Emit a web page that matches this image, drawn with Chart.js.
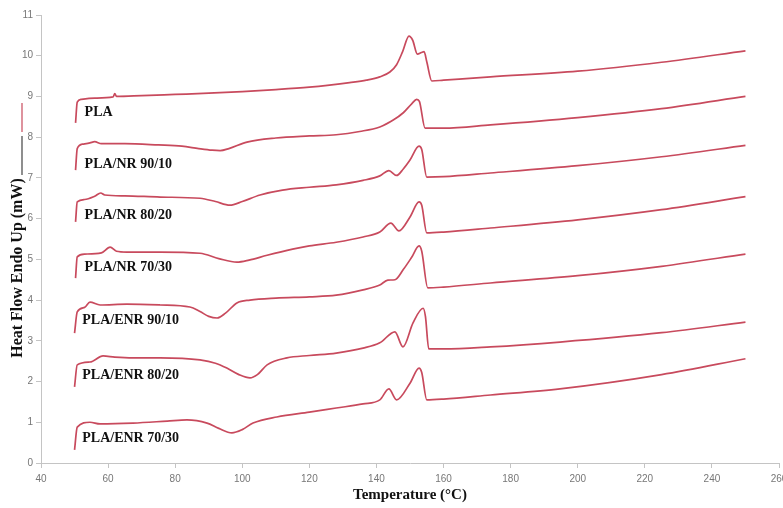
<!DOCTYPE html>
<html lang="en">
<head>
    <meta charset="utf-8">
    <title>DSC curves</title>
    <script src="https://cdn.jsdelivr.net/npm/chart.js"></script>
    <style>
        html, body {
            margin: 0;
            padding: 0;
            background: #fff;
            overflow: hidden;
        }
        #wrap {
            width: 800px;
            height: 508px;
        }
    </style>
</head>
<body>
    <div id="wrap">
        <canvas id="dscChart" width="800" height="508"></canvas>
    </div>

    <script>
        // [temperature °C, heat flow mW]
        const PLA = [[50.3,8.35],[50.8,8.86],[52,8.93],[56,8.96],[61.5,8.99],[62,9.07],[62.5,9.0],[70,9.02],[80,9.05],[90,9.08],[100,9.12],[110,9.17],[120,9.23],[126,9.28],[132,9.34],[137,9.4],[141,9.48],[144,9.6],[146,9.78],[147.8,10.1],[149.7,10.48],[150.8,10.38],[152.2,10.04],[153.4,10.08],[154.2,10.1],[155,9.85],[156.5,9.38],[160,9.4],[174,9.48],[200,9.62],[225,9.84],[250,10.12]];
        const NR_90_10 = [[50.3,7.19],[50.8,7.72],[52.5,7.83],[54.6,7.86],[56,7.89],[58,7.84],[65,7.84],[75,7.81],[82,7.78],[87,7.72],[91,7.68],[93.4,7.67],[96,7.72],[101.4,7.88],[110,7.98],[120,8.03],[128,8.06],[135,8.14],[141,8.25],[145,8.42],[148,8.6],[150.5,8.82],[152,8.93],[152.8,8.88],[154.5,8.22],[160,8.22],[174,8.3],[200,8.48],[225,8.7],[250,9.0]];
        const NR_80_20 = [[50.3,5.92],[50.8,6.41],[53,6.47],[56,6.55],[57.8,6.63],[59,6.58],[65,6.56],[75.5,6.53],[87.4,6.5],[92,6.42],[96.3,6.33],[100,6.42],[105.3,6.58],[112,6.7],[120,6.77],[128,6.83],[136,6.94],[141,7.05],[143.7,7.18],[146,7.06],[148,7.22],[150,7.44],[152.7,7.78],[153.5,7.7],[155,7.02],[160,7.03],[174,7.12],[200,7.3],[225,7.52],[250,7.8]];
        const NR_70_30 = [[50.3,4.54],[50.8,5.06],[53,5.13],[58,5.16],[60.6,5.3],[62.5,5.2],[65.6,5.18],[75.5,5.18],[87.4,5.15],[93,5.02],[98.4,4.93],[102,4.98],[107.4,5.1],[115,5.25],[120,5.33],[128,5.42],[136,5.55],[141,5.67],[144.3,5.89],[146.7,5.7],[150,6.04],[152.7,6.41],[153.5,6.33],[155,5.65],[160,5.67],[174,5.77],[200,5.97],[225,6.22],[250,6.54]];
        const ENR_90_10 = [[50.0,3.19],[50.8,3.71],[53,3.82],[54.6,3.95],[57.6,3.88],[65.6,3.9],[75.5,3.88],[84.4,3.83],[87.4,3.72],[90,3.6],[92.5,3.56],[95,3.68],[98.4,3.93],[102.3,4.0],[110,4.05],[120,4.08],[128,4.12],[136,4.25],[141,4.37],[143.4,4.49],[145.5,4.5],[148,4.75],[150.5,5.05],[152.7,5.33],[153.5,5.2],[155.3,4.3],[160,4.32],[174,4.42],[200,4.6],[225,4.83],[250,5.13]];
        const ENR_80_20 = [[50.0,1.87],[50.8,2.41],[54.6,2.48],[58.5,2.63],[62,2.6],[67.4,2.58],[75.5,2.58],[87.4,2.53],[92,2.45],[95.4,2.33],[99,2.17],[102.3,2.09],[104.5,2.17],[107.4,2.41],[113.3,2.58],[120,2.64],[128,2.7],[136,2.82],[141,2.95],[145.5,3.22],[147.9,2.85],[150.9,3.44],[153.9,3.8],[154.6,3.6],[155.6,2.8],[160,2.8],[174,2.85],[194.7,2.97],[225,3.2],[250,3.46]];
        const ENR_70_30 = [[50.0,0.32],[50.8,0.88],[54.6,1.0],[57.6,0.96],[67.4,0.98],[77.6,1.03],[83.5,1.06],[89.5,0.98],[93,0.85],[96.9,0.74],[100,0.82],[103.2,0.98],[110.3,1.13],[120,1.25],[128,1.35],[136,1.45],[141,1.55],[143.7,1.82],[146,1.55],[150,1.96],[152.7,2.33],[153.5,2.22],[155,1.55],[160,1.57],[174,1.67],[194.7,1.82],[225,2.17],[250,2.56]];

        const seriesNames = ['PLA', 'PLA/NR 90/10', 'PLA/NR 80/20', 'PLA/NR 70/30', 'PLA/ENR 90/10', 'PLA/ENR 80/20', 'PLA/ENR 70/30'];
        const seriesData = [PLA, NR_90_10, NR_80_20, NR_70_30, ENR_90_10, ENR_80_20, ENR_70_30];
        // where each curve's name sits, in data units (temperature, mW)
        const labelT = [53.0, 53.0, 53.0, 53.0, 52.3, 52.3, 52.3];
        const labelV = [8.61, 7.34, 6.09, 4.81, 3.51, 2.16, 0.61];

        const xTicks = [40, 60, 80, 100, 120, 140, 160, 180, 200, 220, 240, 260];
        const yTicks = [0, 1, 2, 3, 4, 5, 6, 7, 8, 9, 10, 11];

        const lineColor = '#c84a5d';
        const axisColor = '#c4c4c4';
        const serif = '"Liberation Serif", "DejaVu Serif", serif';

        const textPlugin = {
            id: 'dscText',
            afterDraw(chart) {
                const ctx = chart.ctx;
                const xs = chart.scales.x;
                const ys = chart.scales.y;
                const area = chart.chartArea;
                ctx.save();

                // curve names
                ctx.fillStyle = '#111';
                ctx.font = 'bold 14px ' + serif;
                ctx.textAlign = 'left';
                ctx.textBaseline = 'middle';
                seriesNames.forEach((name, i) => {
                    ctx.fillText(name, xs.getPixelForValue(labelT[i]), ys.getPixelForValue(labelV[i]));
                });

                // x title
                ctx.font = 'bold 15px ' + serif;
                ctx.textAlign = 'center';
                ctx.fillText('Temperature (\u00B0C)', (area.left + area.right) / 2, 495);

                // y title with the little legend strokes above it
                ctx.translate(18, 268);
                ctx.rotate(-Math.PI / 2);
                ctx.font = 'bold 16px ' + serif;
                ctx.fillText('Heat Flow Endo Up (mW)', 0, 0);
                ctx.restore();

                ctx.save();
                ctx.lineWidth = 1.2;
                ctx.strokeStyle = lineColor;
                ctx.beginPath();
                ctx.moveTo(22, 103);
                ctx.lineTo(22, 132);
                ctx.stroke();
                ctx.strokeStyle = '#444';
                ctx.beginPath();
                ctx.moveTo(22, 136);
                ctx.lineTo(22, 175);
                ctx.stroke();
                ctx.restore();
            }
        };

        const ctx = document.getElementById('dscChart').getContext('2d');
        new Chart(ctx, {
            type: 'line',
            data: {
                datasets: seriesData.map((pts, i) => ({
                    label: seriesNames[i],
                    data: pts.map(p => ({ x: p[0], y: p[1] })),
                    borderColor: lineColor,
                    borderWidth: 1.7,
                    pointRadius: 0,
                    fill: false,
                    cubicInterpolationMode: 'monotone'
                }))
            },
            options: {
                responsive: false,
                animation: false,
                devicePixelRatio: 1,
                layout: {
                    padding: { top: 15, right: 21, left: 0, bottom: 0 }
                },
                plugins: {
                    legend: { display: false },
                    tooltip: { enabled: false }
                },
                scales: {
                    x: {
                        type: 'linear',
                        min: 40,
                        max: 260,
                        afterFit(scale) { scale.height = 45; },
                        afterBuildTicks(scale) { scale.ticks = xTicks.map(v => ({ value: v })); },
                        grid: { drawOnChartArea: false, drawTicks: true, tickLength: 5, color: axisColor },
                        border: { color: axisColor, width: 1 },
                        ticks: {
                            color: '#777',
                            padding: 5,
                            maxRotation: 0,
                            font: { family: '"Liberation Sans", Arial, sans-serif', size: 10 }
                        }
                    },
                    y: {
                        type: 'linear',
                        min: 0,
                        max: 11,
                        afterFit(scale) { scale.width = 41; },
                        afterBuildTicks(scale) { scale.ticks = yTicks.map(v => ({ value: v })); },
                        grid: { drawOnChartArea: false, drawTicks: true, tickLength: 5, color: axisColor },
                        border: { color: axisColor, width: 1 },
                        ticks: {
                            color: '#777',
                            padding: 3,
                            font: { family: '"Liberation Sans", Arial, sans-serif', size: 10 }
                        }
                    }
                }
            },
            plugins: [textPlugin]
        });
    </script>
</body>
</html>
